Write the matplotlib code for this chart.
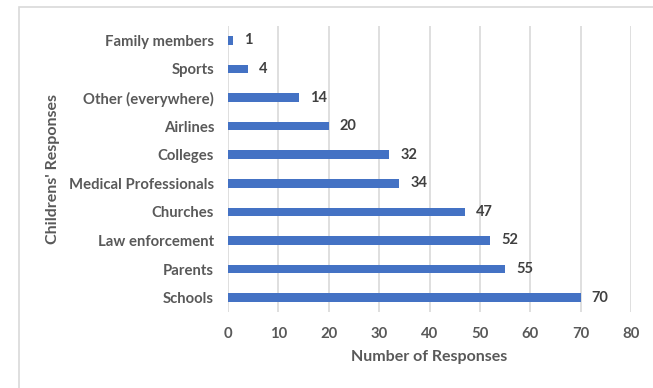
import matplotlib.pyplot as plt
from matplotlib.patches import Rectangle

categories = ['Family members', 'Sports', 'Other (everywhere)', 'Airlines', 'Colleges',
              'Medical Professionals', 'Churches', 'Law enforcement', 'Parents', 'Schools']
responses = [1, 4, 14, 20, 32, 34, 47, 52, 55, 70]
x_ticks = [0, 10, 20, 30, 40, 50, 60, 70, 80]

W, H = 653, 388
plt.rcParams['font.family'] = ['Lato', 'DejaVu Sans']
plt.rcParams['font.weight'] = 'bold'

fig = plt.figure(figsize=(W / 100, H / 100), dpi=100)
# plot area in pixels: x 228..631, y 26..312
ax = fig.add_axes([228 / W, 1 - 312 / H, (631 - 228) / W, (312 - 26) / H])

# chart frame, cut off on right and bottom like the source
fig.patches.append(Rectangle((19 / W, -0.1), 1.2, 1 - 6.5 / H + 0.1, transform=fig.transFigure,
                             fill=False, edgecolor='#d9d9d9', linewidth=1.2))

pos = list(range(len(categories)))[::-1]  # first category on top
ax.barh(pos, responses, height=0.3, color='#4472C4', zorder=3)
for p, v in zip(pos, responses):
    ax.text(v + 2.2, p, str(v), va='center', ha='left', fontsize=10.5, fontweight='bold', color='#404040')

ax.set_xlim(0, 80)
ax.set_ylim(-0.5, len(categories) - 0.5)
ax.set_xticks(x_ticks)
ax.set_yticks(pos)
ax.set_yticklabels(categories)
ax.tick_params(axis='both', length=0, labelsize=10.7, labelcolor='#595959')
ax.tick_params(axis='x', pad=11)
ax.tick_params(axis='y', pad=10)
ax.grid(axis='x', color='#d9d9d9', linewidth=1.2, zorder=0)
for s in ax.spines.values():
    s.set_visible(False)

ax.set_xlabel('Number of Responses', fontsize=11.5, fontweight='bold', color='#595959', labelpad=6)
fig.text(53 / W, 1 - 169 / H, "Childrens' Responses", rotation=90, ha='center', va='center',
         fontsize=11.5, fontweight='bold', color='#595959')

fig.savefig('out.png', dpi=100)
